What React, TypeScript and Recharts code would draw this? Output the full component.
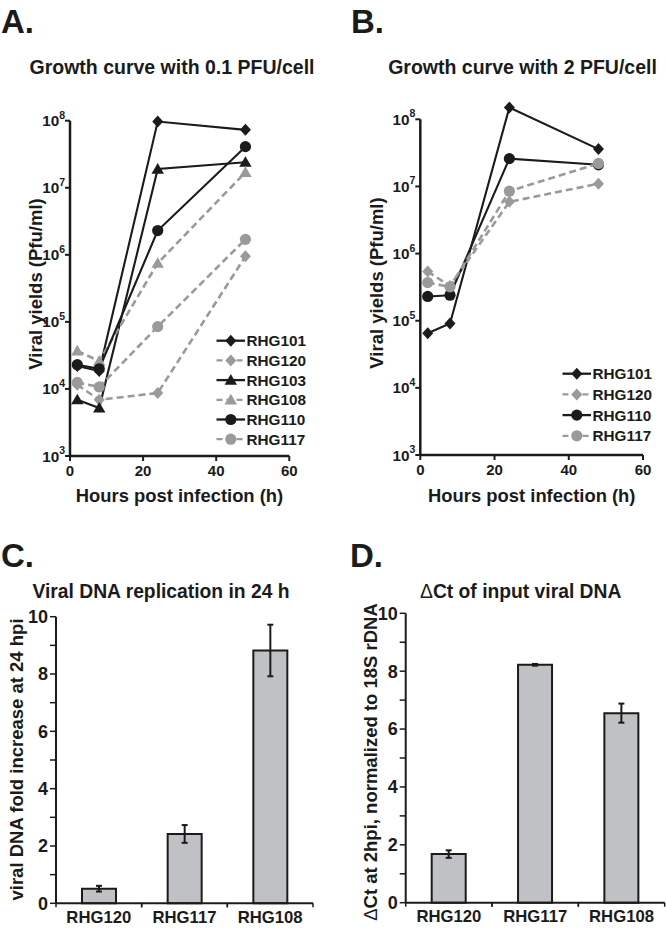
import React from 'react';
import { LineChart, Line, XAxis, YAxis, ReferenceLine, Legend, BarChart, Bar, ErrorBar } from 'recharts';

const FONT = '"Liberation Sans", Arial, Helvetica, sans-serif';
const INK = '#1b1b1b';
const GRAY = '#9a9a9a';
const BAR_FILL = '#c0c1c5';

// ---- Panel A: growth curve with 0.1 PFU/cell ----
const hoursA = [2, 8, 24, 48];
const rhg101A = [2.2e4, 1.85e4, 9.7e7, 7.3e7];
const rhg120A = [1.15e4, 6.9e3, 8.7e3, 9.5e5];
const rhg103A = [6.9e3, 5.2e3, 1.9e7, 2.4e7];
const rhg108A = [3.7e4, 2.6e4, 7.5e5, 1.7e7];
const rhg110A = [2.3e4, 2.0e4, 2.3e6, 4.1e7];
const rhg117A = [1.25e4, 1.07e4, 8.5e4, 1.7e6];

// ---- Panel B: growth curve with 2 PFU/cell ----
const hoursB = [2, 8, 24, 48];
const rhg101B = [6.5e4, 9.1e4, 1.5e8, 3.6e7];
const rhg120B = [5.4e5, 3.3e5, 5.9e6, 1.1e7];
const rhg110B = [2.3e5, 2.4e5, 2.6e7, 2.1e7];
const rhg117B = [3.7e5, 3.2e5, 8.5e6, 2.2e7];

const logTicks = [1e3, 1e4, 1e5, 1e6, 1e7, 1e8];
const hourTicks = [0, 20, 40, 60];

// ---- Panels C & D ----
const strains = ['RHG120', 'RHG117', 'RHG108'];
const foldC = [0.51, 2.42, 8.82];
const foldErrC = [0.1, 0.31, 0.9];
const dctD = [1.68, 8.22, 6.55];
const dctErrD = [0.13, 0.03, 0.33];
const barTicks = [0, 1, 2, 3, 4, 5, 6, 7, 8, 9, 10];

type Shape = 'diamond' | 'triangle' | 'circle';
const STYLE: Record<string, { shape: Shape; color: string; dashed: boolean }> = {
  RHG101: { shape: 'diamond', color: INK, dashed: false },
  RHG120: { shape: 'diamond', color: GRAY, dashed: true },
  RHG103: { shape: 'triangle', color: INK, dashed: false },
  RHG108: { shape: 'triangle', color: GRAY, dashed: true },
  RHG110: { shape: 'circle', color: INK, dashed: false },
  RHG117: { shape: 'circle', color: GRAY, dashed: true },
};

const seriesA: [string, number[]][] = [
  ['RHG101', rhg101A],
  ['RHG120', rhg120A],
  ['RHG103', rhg103A],
  ['RHG108', rhg108A],
  ['RHG110', rhg110A],
  ['RHG117', rhg117A],
];
const seriesB: [string, number[]][] = [
  ['RHG101', rhg101B],
  ['RHG120', rhg120B],
  ['RHG110', rhg110B],
  ['RHG117', rhg117B],
];

const buildRows = (hours: number[], series: [string, number[]][]) =>
  hours.map((h, i) => {
    const row: Record<string, number> = { h };
    series.forEach(([name, vals]) => {
      row[name] = vals[i];
    });
    return row;
  });

const rowsA = buildRows(hoursA, seriesA);
const rowsB = buildRows(hoursB, seriesB);
const rowsC = strains.map((name, i) => ({ name, v: foldC[i], e: foldErrC[i] }));
const rowsD = strains.map((name, i) => ({ name, v: dctD[i], e: dctErrD[i] }));

function Mark({ shape, cx, cy, color }: { shape: Shape; cx: number; cy: number; color: string }) {
  if (cx == null || cy == null || isNaN(cx) || isNaN(cy)) return null;
  if (shape === 'diamond') {
    return <path d={`M${cx},${cy - 6} L${cx + 5.5},${cy} L${cx},${cy + 6} L${cx - 5.5},${cy} Z`} fill={color} />;
  }
  if (shape === 'triangle') {
    return <path d={`M${cx},${cy - 6} L${cx + 6.2},${cy + 4.6} L${cx - 6.2},${cy + 4.6} Z`} fill={color} />;
  }
  return <circle cx={cx} cy={cy} r={5.6} fill={color} />;
}

const PowTick = (p: any) => {
  const exp = Math.round(Math.log10(p.payload.value));
  return (
    <text x={p.x} y={p.y} dy={5.5} textAnchor="end" fontFamily={FONT} fontWeight="bold" fontSize={15.3} fill={INK}>
      <tspan>10</tspan>
      <tspan dy={-7.5} fontSize={10.5}>{exp}</tspan>
    </text>
  );
};

const HourTick = (p: any) => (
  <text x={p.x} y={p.y} dy={11} textAnchor="middle" fontFamily={FONT} fontWeight="bold" fontSize={15} fill={INK}>
    {p.payload.value}
  </text>
);

const EvenTick = (p: any) => {
  const v = p.payload.value;
  if (v % 2 !== 0) return <g />;
  return (
    <text x={p.x} y={p.y} dy={6.4} textAnchor="end" fontFamily={FONT} fontWeight="bold" fontSize={18} fill={INK}>
      {v}
    </text>
  );
};

const makeCatTick = (band: number) => (p: any) => (
  <g>
    <text x={p.x} y={p.y} dy={19.5} textAnchor="middle" fontFamily={FONT} fontWeight="bold" fontSize={16.7} fill={INK}>
      {p.payload.value}
    </text>
    <line x1={p.x - band / 2} x2={p.x - band / 2} y1={p.y} y2={p.y + 4} stroke={INK} strokeWidth={1.5} />
    <line x1={p.x + band / 2} x2={p.x + band / 2} y1={p.y} y2={p.y + 4} stroke={INK} strokeWidth={1.5} />
  </g>
);

const makeLegend = (series: [string, number[]][], rowGap: number) => () => (
  <svg width={112} height={series.length * rowGap + 6} style={{ display: 'block', overflow: 'visible' }}>
    {series.map(([name], i) => {
      const st = STYLE[name];
      const cy = 10.7 + i * rowGap;
      return (
        <g key={name}>
          <line
            x1={2.5}
            x2={31}
            y1={cy}
            y2={cy}
            stroke={st.color}
            strokeWidth={2.3}
            strokeDasharray={st.dashed ? '6 4' : undefined}
          />
          <Mark shape={st.shape} cx={16.8} cy={cy} color={st.color} />
          <text x={32.5} y={cy + 5.5} fontSize={15.3} fontWeight="bold" fill={INK} fontFamily={FONT}>
            {name}
          </text>
        </g>
      );
    })}
  </svg>
);

function GrowthPanel({
  left,
  margin,
  rows,
  series,
  legendPos,
  rowGap,
}: {
  left: number;
  margin: { top: number; right: number; bottom: number; left: number };
  rows: Record<string, number>[];
  series: [string, number[]][];
  legendPos: { left: number; top: number };
  rowGap: number;
}) {
  return (
    <div style={{ position: 'absolute', left, top: 0 }}>
      <LineChart width={333} height={510} data={rows} margin={margin}>
        <XAxis
          type="number"
          dataKey="h"
          domain={[0, 60]}
          ticks={hourTicks}
          interval={0}
          height={50}
          tickSize={5}
          tickMargin={4}
          allowDataOverflow
          axisLine={{ stroke: INK, strokeWidth: 2.5 }}
          tickLine={{ stroke: INK, strokeWidth: 2 }}
          tick={HourTick}
        />
        <YAxis
          type="number"
          scale="log"
          domain={[1e3, 2e8]}
          allowDataOverflow
          ticks={logTicks}
          interval={0}
          width={60}
          tickSize={5}
          tickMargin={0}
          axisLine={false}
          tickLine={{ stroke: INK, strokeWidth: 2 }}
          tick={PowTick}
        />
        <ReferenceLine
          segment={[
            { x: 0, y: 1e3 },
            { x: 0, y: 1e8 },
          ]}
          stroke={INK}
          strokeWidth={2.5}
          ifOverflow="visible"
        />
        {series.map(([name]) => {
          const st = STYLE[name];
          return (
            <Line
              key={name}
              dataKey={name}
              type="linear"
              stroke={st.color}
              strokeWidth={st.dashed ? 2.6 : 2.1}
              strokeDasharray={st.dashed ? '7 4' : undefined}
              isAnimationActive={false}
              activeDot={false}
              dot={(p: any) => <Mark key={`${name}-${p.index}`} shape={st.shape} cx={p.cx} cy={p.cy} color={st.color} />}
            />
          );
        })}
        <Legend
          layout="vertical"
          align="center"
          verticalAlign="middle"
          content={makeLegend(series, rowGap)}
          wrapperStyle={{ left: legendPos.left, top: legendPos.top, width: 112, margin: 0 }}
        />
      </LineChart>
    </div>
  );
}

function BarPanel({
  left,
  margin,
  rows,
}: {
  left: number;
  margin: { top: number; right: number; bottom: number; left: number };
  rows: { name: string; v: number; e: number }[];
}) {
  const band = (333 - margin.left - 50 - margin.right) / rows.length;
  return (
    <div style={{ position: 'absolute', left, top: 560 }}>
      <BarChart width={333} height={368} data={rows} margin={margin}>
        <XAxis
          dataKey="name"
          type="category"
          height={20}
          tickSize={0}
          tickMargin={0}
          interval={0}
          axisLine={{ stroke: INK, strokeWidth: 2 }}
          tickLine={false}
          tick={makeCatTick(band)}
        />
        <YAxis
          type="number"
          domain={[0, 10]}
          ticks={barTicks}
          interval={0}
          width={50}
          tickSize={6}
          tickMargin={2}
          axisLine={{ stroke: INK, strokeWidth: 2 }}
          tickLine={{ stroke: INK, strokeWidth: 1.5 }}
          tick={EvenTick}
        />
        <Bar dataKey="v" fill={BAR_FILL} stroke={INK} strokeWidth={2} barSize={34} isAnimationActive={false}>
          <ErrorBar dataKey="e" direction="y" width={3} strokeWidth={2} stroke={INK} />
        </Bar>
      </BarChart>
    </div>
  );
}

const T = (props: any) => <text fontFamily={FONT} fontWeight="bold" fill={INK} {...props} />;

export default function App() {
  return (
    <div style={{ position: 'absolute', left: 0, top: 0, width: 666, height: 928, background: '#fff', overflow: 'hidden' }}>
      <GrowthPanel
        left={0}
        margin={{ top: 100.5, right: 43.7, bottom: 4, left: 10 }}
        rows={rowsA}
        series={seriesA}
        legendPos={{ left: 214, top: 330 }}
        rowGap={19.7}
      />
      <GrowthPanel
        left={333}
        margin={{ top: 99.1, right: 23, bottom: 5, left: 27.3 }}
        rows={rowsB}
        series={seriesB}
        legendPos={{ left: 227, top: 362.6 }}
        rowGap={20.7}
      />
      <BarPanel left={0} margin={{ top: 56.7, right: 20, bottom: 4.7, left: 6 }} rows={rowsC} />
      <BarPanel left={333} margin={{ top: 53.3, right: 1.3, bottom: 5.3, left: 22.7 }} rows={rowsD} />

      <svg
        width={666}
        height={928}
        style={{ position: 'absolute', left: 0, top: 0, pointerEvents: 'none' }}
      >
        <T x={1} y={33} fontSize={33}>A.</T>
        <T x={351} y={33} fontSize={33}>B.</T>
        <T x={1} y={567} fontSize={33}>C.</T>
        <T x={350} y={567} fontSize={33}>D.</T>

        <T x={172} y={74} fontSize={19.5} textAnchor="middle">Growth curve with 0.1 PFU/cell</T>
        <T x={522.5} y={74} fontSize={19.5} textAnchor="middle">Growth curve with 2 PFU/cell</T>
        <T x={161} y={598} fontSize={19.3} textAnchor="middle">Viral DNA replication in 24 h</T>
        <T x={520.7} y={598} fontSize={19.3} textAnchor="middle">
          <tspan fontWeight="normal">Δ</tspan>Ct of input viral DNA
        </T>

        <T x={179.5} y={502} fontSize={18.4} textAnchor="middle">Hours post infection (h)</T>
        <T x={531.8} y={502} fontSize={18.4} textAnchor="middle">Hours post infection (h)</T>

        <T x={42} y={284} fontSize={18.5} textAnchor="middle" transform="rotate(-90 42 284)">Viral yields (Pfu/ml)</T>
        <T x={383} y={283} fontSize={18.5} textAnchor="middle" transform="rotate(-90 383 283)">Viral yields (Pfu/ml)</T>
        <T x={22.5} y={759.5} fontSize={18.5} textAnchor="middle" transform="rotate(-90 22.5 759.5)">viral DNA fold increase at 24 hpi</T>
        <T x={376.5} y={762} fontSize={18.5} textAnchor="middle" transform="rotate(-90 376.5 762)">
          <tspan fontWeight="normal">Δ</tspan>Ct at 2hpi, normalized to 18S rDNA
        </T>
      </svg>
    </div>
  );
}
